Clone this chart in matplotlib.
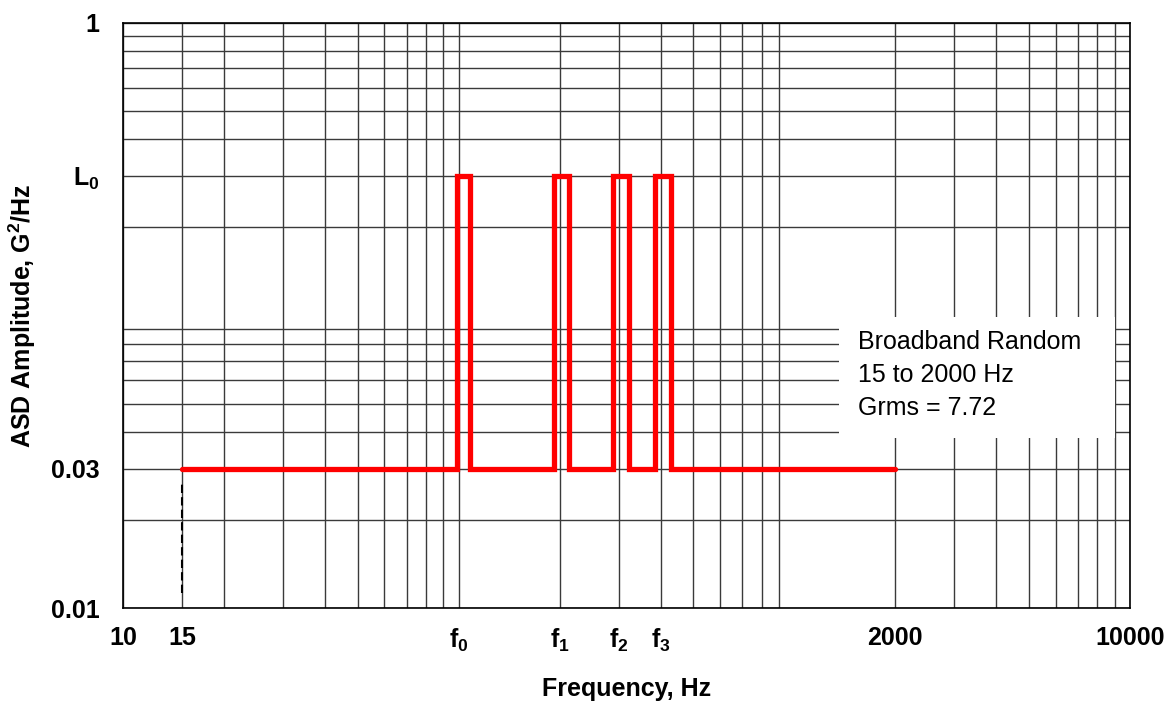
import matplotlib
matplotlib.use('Agg')
import matplotlib.pyplot as plt
from matplotlib.patches import Rectangle
from matplotlib.ticker import LogLocator, NullFormatter

plt.rcParams['font.family'] = ['Liberation Sans', 'DejaVu Sans']
plt.rcParams['mathtext.fontset'] = 'custom'
plt.rcParams['mathtext.rm'] = 'Liberation Sans'
plt.rcParams['mathtext.bf'] = 'Liberation Sans:bold'
plt.rcParams['mathtext.it'] = 'Liberation Sans:italic'

# spectrum levels
f_start = 15
f_end = 2000
base_level = 0.03
peak_level = 0.3   # L0
band_lo = [99, 193, 289, 385]
band_hi = [108, 213, 321, 428]
dash_y = [0.0113, 0.027]

xtick_vals = [10, 15, 100, 200, 300, 400, 2000, 10000]
xtick_labels = ['10', '15', r'$\mathbf{f_0}$', r'$\mathbf{f_1}$', r'$\mathbf{f_2}$',
                r'$\mathbf{f_3}$', '2000', '10000']
ytick_vals = [0.01, 0.03, 0.3, 1]
ytick_labels = ['0.01', '0.03', r'$\mathbf{L_0}\ \ $', '1']

# build the step profile
xs = [f_start]
ys = [base_level]
for lo, hi in zip(band_lo, band_hi):
    xs += [lo, lo, hi, hi]
    ys += [base_level, peak_level, peak_level, base_level]
xs.append(f_end)
ys.append(base_level)

fig = plt.figure(figsize=(11.7, 7.04), dpi=100)
ax = fig.add_axes([0.1051, 0.1359, 0.8607, 0.8319])
ax.set_xscale('log')
ax.set_yscale('log')
ax.set_xlim(10, 10000)
ax.set_ylim(0.01, 1)

ax.xaxis.set_major_locator(LogLocator(base=10, numticks=10))
ax.xaxis.set_minor_locator(LogLocator(base=10, subs=range(2, 10), numticks=40))
ax.yaxis.set_major_locator(LogLocator(base=10, numticks=10))
ax.yaxis.set_minor_locator(LogLocator(base=10, subs=range(2, 10), numticks=40))
ax.grid(True, which='both', color='#3a3a3a', linewidth=1.0)
ax.set_axisbelow(True)

ax.plot(xs, ys, color='#ff0000', linewidth=3.8, solid_joinstyle='miter',
        solid_capstyle='round', zorder=4)
ax.plot([f_start, f_start], dash_y, color='black', linewidth=1.5,
        dashes=(4, 2), zorder=3)

# note box hiding the grid
ax.add_patch(Rectangle((0.711, 0.291), 0.274, 0.206, transform=ax.transAxes,
                       facecolor='white', edgecolor='none', zorder=2.5))
ax.text(0.7303, 0.4745, 'Broadband Random\n15 to 2000 Hz\nGrms = 7.72',
        transform=ax.transAxes, fontsize=18, va='top', ha='left',
        linespacing=1.45, zorder=3)

ax.set_xticks(xtick_vals)
ax.set_xticklabels(xtick_labels, fontsize=18, fontweight='bold')
ax.xaxis.set_minor_formatter(NullFormatter())
ax.set_yticks(ytick_vals)
ax.set_yticklabels(ytick_labels, fontsize=18, fontweight='bold')
ax.yaxis.set_minor_formatter(NullFormatter())
ax.tick_params(which='both', length=0)
ax.tick_params(axis='x', pad=13)
ax.tick_params(axis='y', pad=17)

for s in ax.spines.values():
    s.set_color('black')
    s.set_linewidth(1.2)

ax.set_xlabel('Frequency, Hz', fontsize=18, fontweight='bold')
ax.xaxis.set_label_coords(0.5, -0.118)
ax.set_ylabel(r'ASD Amplitude, G$^\mathbf{2}$/Hz', fontsize=18, fontweight='bold')
ax.yaxis.set_label_coords(-0.0844, 0.5)

fig.savefig('out.png', dpi=100)
